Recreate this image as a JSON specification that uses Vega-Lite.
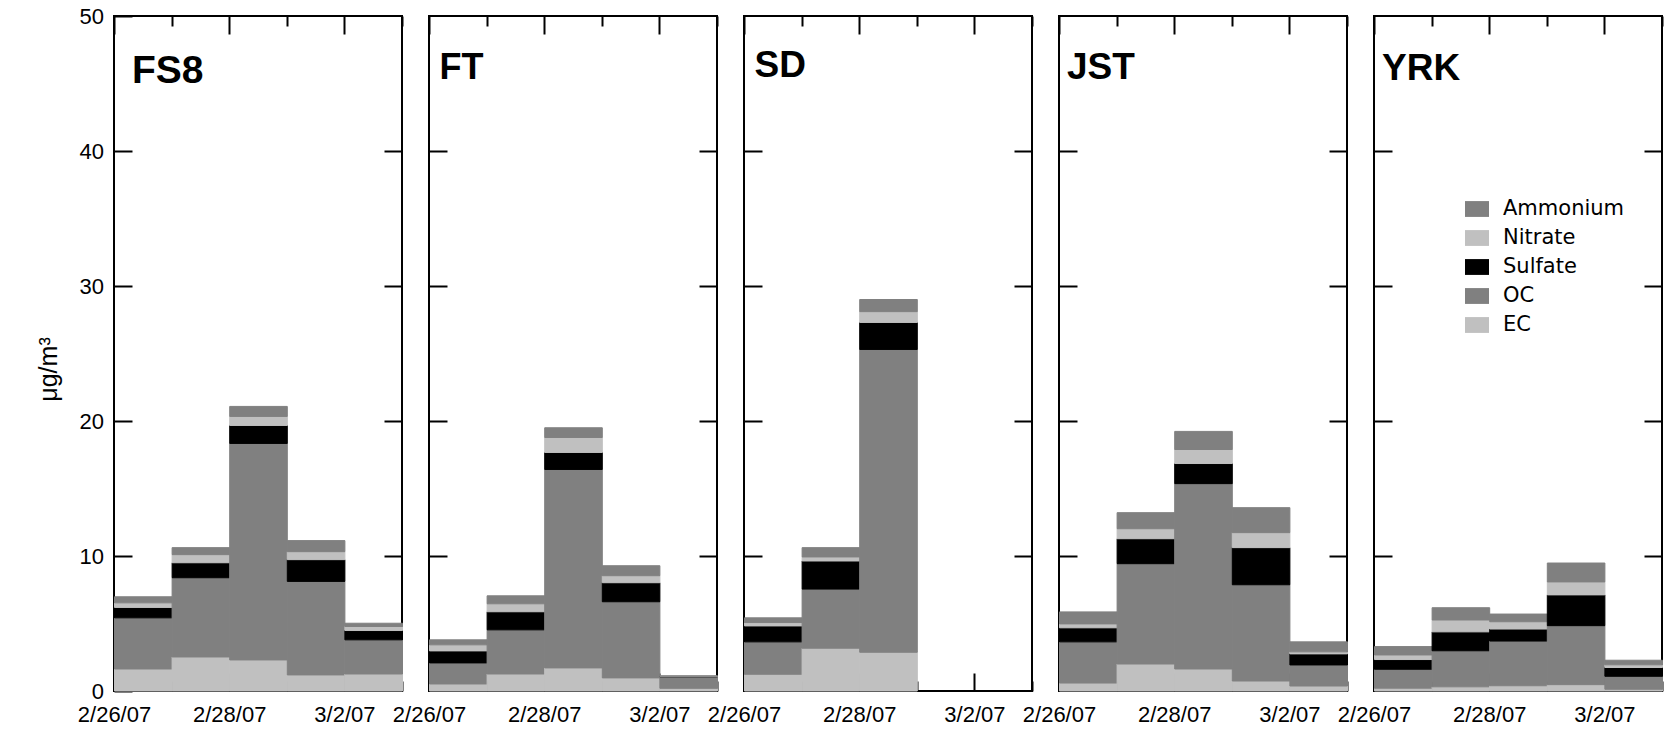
{
  "$schema": "https://vega.github.io/schema/vega-lite/v6.json",
  "padding": {"left": 35, "top": 4, "right": 0, "bottom": 0},
  "background": "white",
  "bounds": "flush",
  "spacing": 27,
  "data": {"values": [
    {"site":"FS8","date":"2007/02/26","EC":1.63,"OC":3.79,"Sulfate":0.77,"Nitrate":0.34,"Ammonium":0.45},
    {"site":"FS8","date":"2007/02/27","EC":2.52,"OC":5.87,"Sulfate":1.11,"Nitrate":0.60,"Ammonium":0.52},
    {"site":"FS8","date":"2007/02/28","EC":2.30,"OC":16.04,"Sulfate":1.33,"Nitrate":0.67,"Ammonium":0.74},
    {"site":"FS8","date":"2007/03/01","EC":1.19,"OC":6.93,"Sulfate":1.61,"Nitrate":0.59,"Ammonium":0.82},
    {"site":"FS8","date":"2007/03/02","EC":1.26,"OC":2.53,"Sulfate":0.69,"Nitrate":0.30,"Ammonium":0.24},
    {"site":"FT","date":"2007/02/26","EC":0.52,"OC":1.56,"Sulfate":0.89,"Nitrate":0.45,"Ammonium":0.37},
    {"site":"FT","date":"2007/02/27","EC":1.26,"OC":3.27,"Sulfate":1.34,"Nitrate":0.59,"Ammonium":0.59},
    {"site":"FT","date":"2007/02/28","EC":1.71,"OC":14.70,"Sulfate":1.26,"Nitrate":1.11,"Ammonium":0.72},
    {"site":"FT","date":"2007/03/01","EC":0.97,"OC":5.64,"Sulfate":1.41,"Nitrate":0.52,"Ammonium":0.74},
    {"site":"FT","date":"2007/03/02","EC":0.20,"OC":0.85,"Sulfate":0.03,"Nitrate":0.02,"Ammonium":0.02},
    {"site":"SD","date":"2007/02/26","EC":1.24,"OC":2.40,"Sulfate":1.18,"Nitrate":0.25,"Ammonium":0.35},
    {"site":"SD","date":"2007/02/27","EC":3.17,"OC":4.38,"Sulfate":2.08,"Nitrate":0.30,"Ammonium":0.69},
    {"site":"SD","date":"2007/02/28","EC":2.87,"OC":22.43,"Sulfate":2.00,"Nitrate":0.80,"Ammonium":0.90},
    {"site":"JST","date":"2007/02/26","EC":0.59,"OC":3.05,"Sulfate":1.04,"Nitrate":0.29,"Ammonium":0.89},
    {"site":"JST","date":"2007/02/27","EC":2.00,"OC":7.43,"Sulfate":1.85,"Nitrate":0.74,"Ammonium":1.19},
    {"site":"JST","date":"2007/02/28","EC":1.63,"OC":13.73,"Sulfate":1.49,"Nitrate":1.04,"Ammonium":1.34},
    {"site":"JST","date":"2007/03/01","EC":0.74,"OC":7.13,"Sulfate":2.75,"Nitrate":1.11,"Ammonium":1.85},
    {"site":"JST","date":"2007/03/02","EC":0.37,"OC":1.56,"Sulfate":0.82,"Nitrate":0.15,"Ammonium":0.74},
    {"site":"YRK","date":"2007/02/26","EC":0.21,"OC":1.40,"Sulfate":0.72,"Nitrate":0.34,"Ammonium":0.62},
    {"site":"YRK","date":"2007/02/27","EC":0.31,"OC":2.67,"Sulfate":1.40,"Nitrate":0.88,"Ammonium":0.91},
    {"site":"YRK","date":"2007/02/28","EC":0.39,"OC":3.31,"Sulfate":0.89,"Nitrate":0.54,"Ammonium":0.57},
    {"site":"YRK","date":"2007/03/01","EC":0.47,"OC":4.37,"Sulfate":2.28,"Nitrate":0.96,"Ammonium":1.40},
    {"site":"YRK","date":"2007/03/02","EC":0.13,"OC":0.96,"Sulfate":0.65,"Nitrate":0.20,"Ammonium":0.34}
  ]},
  "hconcat": [
    {
      "width": 288, "height": 675,
      "layer": [
        {
          "transform": [{"filter": "datum.site == 'FS8'"}, {"fold": ["EC","OC","Sulfate","Nitrate","Ammonium"], "as": ["component","value"]}, {"window": [{"op": "row_number", "as": "rank"}], "groupby": ["date"]}],
          "mark": {"type": "bar", "binSpacing": 0, "strokeWidth": 1},
          "encoding": {
            "x": {"field": "date", "timeUnit": "yearmonthdate", "type": "temporal", "title": null,
                  "scale": {"domain": [{"year":2007,"month":2,"date":26},{"year":2007,"month":3,"date":3}]},
                  "axis": {"orient": "bottom", "values": [{"year":2007,"month":2,"date":26},{"year":2007,"month":2,"date":27},{"year":2007,"month":2,"date":28},{"year":2007,"month":3,"date":1},{"year":2007,"month":3,"date":2},{"year":2007,"month":3,"date":3}],
                           "labelExpr": "date(datum.value) % 2 == 0 ? timeFormat(datum.value, '%-m/%-d/%y') : ''",
                           "tickSize": {"condition": {"test": "date(datum.value) % 2 == 0", "value": -18}, "value": -10},
                           "labelFlush": false, "labelOverlap": false, "labelBound": false, "labelBaseline": "top", "labelPadding": 31}},
            "y": {"field": "value", "type": "quantitative", "stack": "zero",
                  "scale": {"domain": [0, 50], "nice": false},
                  "axis": {"orient": "left", "values": [0,10,20,30,40,50], "tickSize": -18, "labelPadding": 28.5, "title": "μg/m³", "titleX": -66, "titleY": 353, "titleAngle": 270, "titleAlign": "center", "titleBaseline": "middle", "titleFontSize": 25}},
            "color": {"field": "component", "type": "nominal",
                      "scale": {"domain": ["Ammonium","Nitrate","Sulfate","OC","EC"], "range": ["#808080","#c0c0c0","#000000","#808080","#c0c0c0"]},
                      "legend": {"orient": "none", "legendX": 1351, "legendY": 181, "title": null}},
            "stroke": {"field": "component", "type": "nominal", "legend": null,
                      "scale": {"domain": ["Ammonium","Nitrate","Sulfate","OC","EC"], "range": ["#808080","#c0c0c0","#000000","#808080","#c0c0c0"]}},
            "order": {"field": "rank", "type": "quantitative"}
          }
        },
        {
          "data": {"values": [{}]},
          "mark": {"type": "text", "font": "Liberation Sans", "fontWeight": "bold", "fontSize": 39, "align": "left", "baseline": "alphabetic", "dx": 18, "color": "black"},
          "encoding": {
            "x": {"datum": {"year":2007,"month":2,"date":26}, "type": "temporal",
                  "scale": {"domain": [{"year":2007,"month":2,"date":26},{"year":2007,"month":3,"date":3}]},
                  "axis": {"orient": "top", "title": null, "labels": false, "values": [{"year":2007,"month":2,"date":26},{"year":2007,"month":2,"date":27},{"year":2007,"month":2,"date":28},{"year":2007,"month":3,"date":1},{"year":2007,"month":3,"date":2},{"year":2007,"month":3,"date":3}],
                           "tickSize": {"condition": {"test": "date(datum.value) % 2 == 0", "value": -18}, "value": -10}}},
            "y": {"datum": 45.02, "type": "quantitative", "scale": {"domain": [0, 50], "nice": false},
                  "axis": {"orient": "right", "title": null, "labels": false, "values": [10,20,30,40], "tickSize": -18}},
            "text": {"value": "FS8"}
          }
        }
      ],
      "resolve": {"scale": {"x": "independent", "y": "independent"}}
    },
    {
      "width": 288, "height": 675,
      "layer": [
        {
          "transform": [{"filter": "datum.site == 'FT'"}, {"fold": ["EC","OC","Sulfate","Nitrate","Ammonium"], "as": ["component","value"]}, {"window": [{"op": "row_number", "as": "rank"}], "groupby": ["date"]}],
          "mark": {"type": "bar", "binSpacing": 0, "strokeWidth": 1},
          "encoding": {
            "x": {"field": "date", "timeUnit": "yearmonthdate", "type": "temporal", "title": null,
                  "scale": {"domain": [{"year":2007,"month":2,"date":26},{"year":2007,"month":3,"date":3}]},
                  "axis": {"orient": "bottom", "values": [{"year":2007,"month":2,"date":26},{"year":2007,"month":2,"date":27},{"year":2007,"month":2,"date":28},{"year":2007,"month":3,"date":1},{"year":2007,"month":3,"date":2},{"year":2007,"month":3,"date":3}],
                           "labelExpr": "date(datum.value) % 2 == 0 ? timeFormat(datum.value, '%-m/%-d/%y') : ''",
                           "tickSize": {"condition": {"test": "date(datum.value) % 2 == 0", "value": -18}, "value": -10},
                           "labelFlush": false, "labelOverlap": false, "labelBound": false, "labelBaseline": "top", "labelPadding": 31}},
            "y": {"field": "value", "type": "quantitative", "stack": "zero",
                  "scale": {"domain": [0, 50], "nice": false},
                  "axis": {"orient": "left", "values": [10,20,30,40], "tickSize": -18, "labels": false, "title": null}},
            "color": {"field": "component", "type": "nominal",
                      "scale": {"domain": ["Ammonium","Nitrate","Sulfate","OC","EC"], "range": ["#808080","#c0c0c0","#000000","#808080","#c0c0c0"]},
                      "legend": {"orient": "none", "legendX": 1351, "legendY": 181, "title": null}},
            "stroke": {"field": "component", "type": "nominal", "legend": null,
                      "scale": {"domain": ["Ammonium","Nitrate","Sulfate","OC","EC"], "range": ["#808080","#c0c0c0","#000000","#808080","#c0c0c0"]}},
            "order": {"field": "rank", "type": "quantitative"}
          }
        },
        {
          "data": {"values": [{}]},
          "mark": {"type": "text", "font": "Liberation Sans", "fontWeight": "bold", "fontSize": 36, "align": "left", "baseline": "alphabetic", "dx": 10.5, "color": "black"},
          "encoding": {
            "x": {"datum": {"year":2007,"month":2,"date":26}, "type": "temporal",
                  "scale": {"domain": [{"year":2007,"month":2,"date":26},{"year":2007,"month":3,"date":3}]},
                  "axis": {"orient": "top", "title": null, "labels": false, "values": [{"year":2007,"month":2,"date":26},{"year":2007,"month":2,"date":27},{"year":2007,"month":2,"date":28},{"year":2007,"month":3,"date":1},{"year":2007,"month":3,"date":2},{"year":2007,"month":3,"date":3}],
                           "tickSize": {"condition": {"test": "date(datum.value) % 2 == 0", "value": -18}, "value": -10}}},
            "y": {"datum": 45.37, "type": "quantitative", "scale": {"domain": [0, 50], "nice": false},
                  "axis": {"orient": "right", "title": null, "labels": false, "values": [10,20,30,40], "tickSize": -18}},
            "text": {"value": "FT"}
          }
        }
      ],
      "resolve": {"scale": {"x": "independent", "y": "independent"}}
    },
    {
      "width": 288, "height": 675,
      "layer": [
        {
          "transform": [{"filter": "datum.site == 'SD'"}, {"fold": ["EC","OC","Sulfate","Nitrate","Ammonium"], "as": ["component","value"]}, {"window": [{"op": "row_number", "as": "rank"}], "groupby": ["date"]}],
          "mark": {"type": "bar", "binSpacing": 0, "strokeWidth": 1},
          "encoding": {
            "x": {"field": "date", "timeUnit": "yearmonthdate", "type": "temporal", "title": null,
                  "scale": {"domain": [{"year":2007,"month":2,"date":26},{"year":2007,"month":3,"date":3}]},
                  "axis": {"orient": "bottom", "values": [{"year":2007,"month":2,"date":26},{"year":2007,"month":2,"date":27},{"year":2007,"month":2,"date":28},{"year":2007,"month":3,"date":1},{"year":2007,"month":3,"date":2},{"year":2007,"month":3,"date":3}],
                           "labelExpr": "date(datum.value) % 2 == 0 ? timeFormat(datum.value, '%-m/%-d/%y') : ''",
                           "tickSize": {"condition": {"test": "date(datum.value) % 2 == 0", "value": -18}, "value": -10},
                           "labelFlush": false, "labelOverlap": false, "labelBound": false, "labelBaseline": "top", "labelPadding": 31}},
            "y": {"field": "value", "type": "quantitative", "stack": "zero",
                  "scale": {"domain": [0, 50], "nice": false},
                  "axis": {"orient": "left", "values": [10,20,30,40], "tickSize": -18, "labels": false, "title": null}},
            "color": {"field": "component", "type": "nominal",
                      "scale": {"domain": ["Ammonium","Nitrate","Sulfate","OC","EC"], "range": ["#808080","#c0c0c0","#000000","#808080","#c0c0c0"]},
                      "legend": {"orient": "none", "legendX": 1351, "legendY": 181, "title": null}},
            "stroke": {"field": "component", "type": "nominal", "legend": null,
                      "scale": {"domain": ["Ammonium","Nitrate","Sulfate","OC","EC"], "range": ["#808080","#c0c0c0","#000000","#808080","#c0c0c0"]}},
            "order": {"field": "rank", "type": "quantitative"}
          }
        },
        {
          "data": {"values": [{}]},
          "mark": {"type": "text", "font": "Liberation Sans", "fontWeight": "bold", "fontSize": 37, "align": "left", "baseline": "alphabetic", "dx": 10.5, "color": "black"},
          "encoding": {
            "x": {"datum": {"year":2007,"month":2,"date":26}, "type": "temporal",
                  "scale": {"domain": [{"year":2007,"month":2,"date":26},{"year":2007,"month":3,"date":3}]},
                  "axis": {"orient": "top", "title": null, "labels": false, "values": [{"year":2007,"month":2,"date":26},{"year":2007,"month":2,"date":27},{"year":2007,"month":2,"date":28},{"year":2007,"month":3,"date":1},{"year":2007,"month":3,"date":2},{"year":2007,"month":3,"date":3}],
                           "tickSize": {"condition": {"test": "date(datum.value) % 2 == 0", "value": -18}, "value": -10}}},
            "y": {"datum": 45.5, "type": "quantitative", "scale": {"domain": [0, 50], "nice": false},
                  "axis": {"orient": "right", "title": null, "labels": false, "values": [10,20,30,40], "tickSize": -18}},
            "text": {"value": "SD"}
          }
        }
      ],
      "resolve": {"scale": {"x": "independent", "y": "independent"}}
    },
    {
      "width": 288, "height": 675,
      "layer": [
        {
          "transform": [{"filter": "datum.site == 'JST'"}, {"fold": ["EC","OC","Sulfate","Nitrate","Ammonium"], "as": ["component","value"]}, {"window": [{"op": "row_number", "as": "rank"}], "groupby": ["date"]}],
          "mark": {"type": "bar", "binSpacing": 0, "strokeWidth": 1},
          "encoding": {
            "x": {"field": "date", "timeUnit": "yearmonthdate", "type": "temporal", "title": null,
                  "scale": {"domain": [{"year":2007,"month":2,"date":26},{"year":2007,"month":3,"date":3}]},
                  "axis": {"orient": "bottom", "values": [{"year":2007,"month":2,"date":26},{"year":2007,"month":2,"date":27},{"year":2007,"month":2,"date":28},{"year":2007,"month":3,"date":1},{"year":2007,"month":3,"date":2},{"year":2007,"month":3,"date":3}],
                           "labelExpr": "date(datum.value) % 2 == 0 ? timeFormat(datum.value, '%-m/%-d/%y') : ''",
                           "tickSize": {"condition": {"test": "date(datum.value) % 2 == 0", "value": -18}, "value": -10},
                           "labelFlush": false, "labelOverlap": false, "labelBound": false, "labelBaseline": "top", "labelPadding": 31}},
            "y": {"field": "value", "type": "quantitative", "stack": "zero",
                  "scale": {"domain": [0, 50], "nice": false},
                  "axis": {"orient": "left", "values": [10,20,30,40], "tickSize": -18, "labels": false, "title": null}},
            "color": {"field": "component", "type": "nominal",
                      "scale": {"domain": ["Ammonium","Nitrate","Sulfate","OC","EC"], "range": ["#808080","#c0c0c0","#000000","#808080","#c0c0c0"]},
                      "legend": {"orient": "none", "legendX": 1351, "legendY": 181, "title": null}},
            "stroke": {"field": "component", "type": "nominal", "legend": null,
                      "scale": {"domain": ["Ammonium","Nitrate","Sulfate","OC","EC"], "range": ["#808080","#c0c0c0","#000000","#808080","#c0c0c0"]}},
            "order": {"field": "rank", "type": "quantitative"}
          }
        },
        {
          "data": {"values": [{}]},
          "mark": {"type": "text", "font": "Liberation Sans", "fontWeight": "bold", "fontSize": 37, "align": "left", "baseline": "alphabetic", "dx": 8, "color": "black"},
          "encoding": {
            "x": {"datum": {"year":2007,"month":2,"date":26}, "type": "temporal",
                  "scale": {"domain": [{"year":2007,"month":2,"date":26},{"year":2007,"month":3,"date":3}]},
                  "axis": {"orient": "top", "title": null, "labels": false, "values": [{"year":2007,"month":2,"date":26},{"year":2007,"month":2,"date":27},{"year":2007,"month":2,"date":28},{"year":2007,"month":3,"date":1},{"year":2007,"month":3,"date":2},{"year":2007,"month":3,"date":3}],
                           "tickSize": {"condition": {"test": "date(datum.value) % 2 == 0", "value": -18}, "value": -10}}},
            "y": {"datum": 45.3, "type": "quantitative", "scale": {"domain": [0, 50], "nice": false},
                  "axis": {"orient": "right", "title": null, "labels": false, "values": [10,20,30,40], "tickSize": -18}},
            "text": {"value": "JST"}
          }
        }
      ],
      "resolve": {"scale": {"x": "independent", "y": "independent"}}
    },
    {
      "width": 288, "height": 675,
      "layer": [
        {
          "transform": [{"filter": "datum.site == 'YRK'"}, {"fold": ["EC","OC","Sulfate","Nitrate","Ammonium"], "as": ["component","value"]}, {"window": [{"op": "row_number", "as": "rank"}], "groupby": ["date"]}],
          "mark": {"type": "bar", "binSpacing": 0, "strokeWidth": 1},
          "encoding": {
            "x": {"field": "date", "timeUnit": "yearmonthdate", "type": "temporal", "title": null,
                  "scale": {"domain": [{"year":2007,"month":2,"date":26},{"year":2007,"month":3,"date":3}]},
                  "axis": {"orient": "bottom", "values": [{"year":2007,"month":2,"date":26},{"year":2007,"month":2,"date":27},{"year":2007,"month":2,"date":28},{"year":2007,"month":3,"date":1},{"year":2007,"month":3,"date":2},{"year":2007,"month":3,"date":3}],
                           "labelExpr": "date(datum.value) % 2 == 0 ? timeFormat(datum.value, '%-m/%-d/%y') : ''",
                           "tickSize": {"condition": {"test": "date(datum.value) % 2 == 0", "value": -18}, "value": -10},
                           "labelFlush": false, "labelOverlap": false, "labelBound": false, "labelBaseline": "top", "labelPadding": 31}},
            "y": {"field": "value", "type": "quantitative", "stack": "zero",
                  "scale": {"domain": [0, 50], "nice": false},
                  "axis": {"orient": "left", "values": [10,20,30,40], "tickSize": -18, "labels": false, "title": null}},
            "color": {"field": "component", "type": "nominal",
                      "scale": {"domain": ["Ammonium","Nitrate","Sulfate","OC","EC"], "range": ["#808080","#c0c0c0","#000000","#808080","#c0c0c0"]},
                      "legend": {"orient": "none", "legendX": 1351, "legendY": 181, "title": null}},
            "stroke": {"field": "component", "type": "nominal", "legend": null,
                      "scale": {"domain": ["Ammonium","Nitrate","Sulfate","OC","EC"], "range": ["#808080","#c0c0c0","#000000","#808080","#c0c0c0"]}},
            "order": {"field": "rank", "type": "quantitative"}
          }
        },
        {
          "data": {"values": [{}]},
          "mark": {"type": "text", "font": "Liberation Sans", "fontWeight": "bold", "fontSize": 37, "align": "left", "baseline": "alphabetic", "dx": 8, "color": "black"},
          "encoding": {
            "x": {"datum": {"year":2007,"month":2,"date":26}, "type": "temporal",
                  "scale": {"domain": [{"year":2007,"month":2,"date":26},{"year":2007,"month":3,"date":3}]},
                  "axis": {"orient": "top", "title": null, "labels": false, "values": [{"year":2007,"month":2,"date":26},{"year":2007,"month":2,"date":27},{"year":2007,"month":2,"date":28},{"year":2007,"month":3,"date":1},{"year":2007,"month":3,"date":2},{"year":2007,"month":3,"date":3}],
                           "tickSize": {"condition": {"test": "date(datum.value) % 2 == 0", "value": -18}, "value": -10}}},
            "y": {"datum": 45.24, "type": "quantitative", "scale": {"domain": [0, 50], "nice": false},
                  "axis": {"orient": "right", "title": null, "labels": false, "values": [10,20,30,40], "tickSize": -18}},
            "text": {"value": "YRK"}
          }
        }
      ],
      "resolve": {"scale": {"x": "independent", "y": "independent"}}
    }
  ],
  "config": {
    "view": {"stroke": "black", "strokeWidth": 2},
    "axis": {"domain": false, "grid": false, "tickColor": "black", "tickWidth": 2, "labelColor": "black", "labelFont": "Liberation Sans", "labelFontSize": 22, "titleFont": "Liberation Sans", "titleFontSize": 24, "titleFontWeight": "normal", "titleColor": "black"},
    "legend": {"symbolType": "M-1,-0.66H1V0.66H-1Z", "symbolSize": 576, "symbolStrokeWidth": 0, "labelFont": "DejaVu Sans", "labelFontSize": 21, "labelColor": "black", "labelOffset": 14, "rowPadding": 7}
  }
}
